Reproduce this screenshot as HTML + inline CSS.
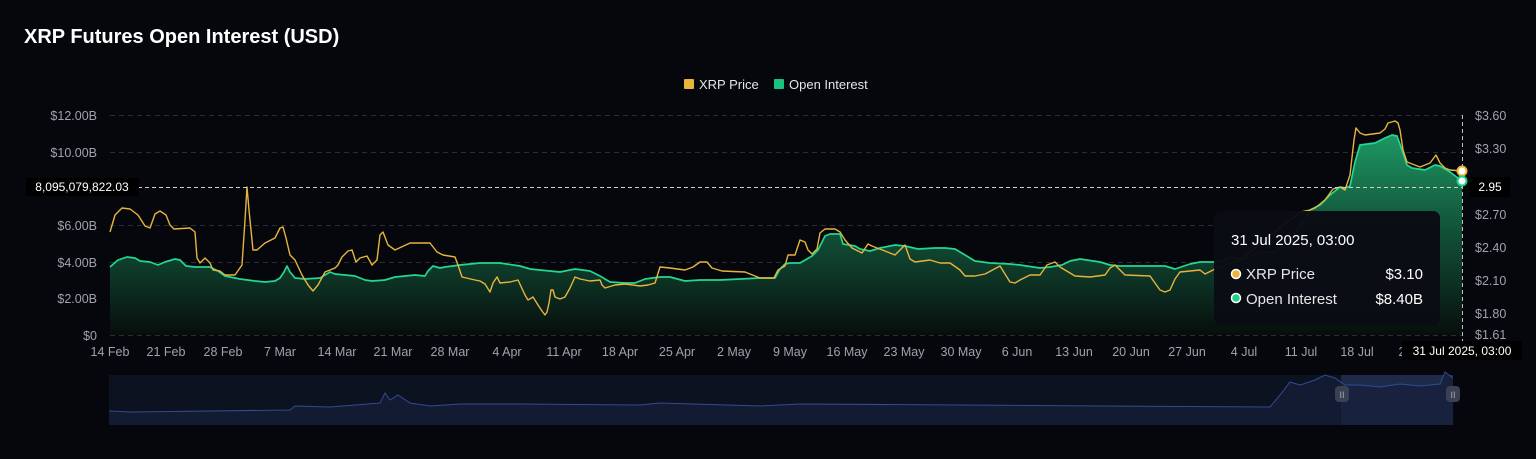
<!DOCTYPE html>
<html><head><meta charset="utf-8"><style>
html,body{margin:0;padding:0;background:#05070d;}
svg{display:block;font-family:"Liberation Sans",sans-serif;}
</style></head><body>
<svg width="1536" height="459" viewBox="0 0 1536 459" xmlns="http://www.w3.org/2000/svg">
<defs>
<linearGradient id="ga" gradientUnits="userSpaceOnUse" x1="0" y1="130" x2="0" y2="335">
<stop offset="0" stop-color="#1fa36a" stop-opacity="0.95"/>
<stop offset="0.5" stop-color="#13583c" stop-opacity="0.9"/>
<stop offset="1" stop-color="#070d0c" stop-opacity="1"/>
</linearGradient>
</defs>
<rect width="1536" height="459" fill="#05070d"/>
<text x="24" y="43" fill="#ffffff" font-size="20" font-weight="bold">XRP Futures Open Interest (USD)</text>
<rect x="684" y="79" width="10" height="10" rx="1" fill="#e8b43c"/>
<text x="699" y="89" fill="#e6e6e6" font-size="13">XRP Price</text>
<rect x="774" y="79" width="10" height="10" rx="1" fill="#19c27f"/>
<text x="789" y="89" fill="#e6e6e6" font-size="13">Open Interest</text>
<g stroke="#2a2d35" stroke-dasharray="5,4" stroke-width="1">
<line x1="110" y1="115.5" x2="1462" y2="115.5"/>
<line x1="110" y1="152.5" x2="1462" y2="152.5"/>
<line x1="110" y1="225.5" x2="1462" y2="225.5"/>
<line x1="110" y1="262.5" x2="1462" y2="262.5"/>
<line x1="110" y1="298.5" x2="1462" y2="298.5"/>
<line x1="110" y1="335.5" x2="1462" y2="335.5"/>
</g>
<g fill="#a0a3aa" font-size="12.5" text-anchor="end">
<text x="97" y="120">$12.00B</text>
<text x="97" y="157">$10.00B</text>
<text x="97" y="230">$6.00B</text>
<text x="97" y="267">$4.00B</text>
<text x="97" y="303">$2.00B</text>
<text x="97" y="340">$0</text>
</g>
<g fill="#a0a3aa" font-size="12.5">
<text x="1475" y="120">$3.60</text>
<text x="1475" y="153">$3.30</text>
<text x="1475" y="219">$2.70</text>
<text x="1475" y="252">$2.40</text>
<text x="1475" y="285">$2.10</text>
<text x="1475" y="318">$1.80</text>
<text x="1475" y="339">$1.61</text>
</g>
<g fill="#a0a3aa" font-size="12.5" text-anchor="middle">
<text x="110" y="356">14 Feb</text><text x="166" y="356">21 Feb</text><text x="223" y="356">28 Feb</text>
<text x="280" y="356">7 Mar</text><text x="337" y="356">14 Mar</text><text x="393" y="356">21 Mar</text>
<text x="450" y="356">28 Mar</text><text x="507" y="356">4 Apr</text><text x="564" y="356">11 Apr</text>
<text x="620" y="356">18 Apr</text><text x="677" y="356">25 Apr</text><text x="734" y="356">2 May</text>
<text x="790" y="356">9 May</text><text x="847" y="356">16 May</text><text x="904" y="356">23 May</text>
<text x="961" y="356">30 May</text><text x="1017" y="356">6 Jun</text><text x="1074" y="356">13 Jun</text>
<text x="1131" y="356">20 Jun</text><text x="1187" y="356">27 Jun</text><text x="1244" y="356">4 Jul</text>
<text x="1301" y="356">11 Jul</text><text x="1357" y="356">18 Jul</text><text x="1402" y="356">2</text>
</g>
<polygon fill="url(#ga)" points="110,335 110,267 118,260 127,257 135,258 140,261 150,262 158,265 165,262 175,259 180,260 186,266 195,267 210,267 218,271 225,276 240,279 255,281 265,282 275,281 280,278 284,272 287,266 290,272 295,278 305,279 320,278 330,272 335,274 345,275 355,276 365,280 372,281 385,280 395,277 405,276 415,275 425,276 428,271 433,266 440,268 445,267 460,265 480,263 500,263 520,266 530,269 540,270 550,271 560,272 575,269 590,271 600,276 610,282 625,283 635,283 645,279 660,277 670,277 685,281 700,280 720,280 740,279 760,278 775,278 780,269 785,264 790,263 800,263 812,256 818,250 825,236 830,234 840,234 843,244 855,246 860,249 870,251 880,248 895,245 905,246 918,249 935,248 945,248 955,249 965,255 975,261 990,263 1010,264 1020,265 1040,268 1050,267 1062,265 1070,261 1080,259 1100,262 1110,265 1120,266 1165,266 1175,269 1190,264 1200,262 1214,262 1230,258 1245,258 1260,252 1275,252 1290,240 1310,210 1320,205 1330,195 1340,187 1345,188 1350,186 1355,162 1360,145 1375,143 1385,138 1392,135 1397,136 1402,150 1407,165 1412,168 1425,170 1435,165 1440,166 1450,172 1462,181 1462,335"/>
<polyline fill="none" stroke="#22d890" stroke-width="1.7" stroke-linejoin="round" points="110,267 118,260 127,257 135,258 140,261 150,262 158,265 165,262 175,259 180,260 186,266 195,267 210,267 218,271 225,276 240,279 255,281 265,282 275,281 280,278 284,272 287,266 290,272 295,278 305,279 320,278 330,272 335,274 345,275 355,276 365,280 372,281 385,280 395,277 405,276 415,275 425,276 428,271 433,266 440,268 445,267 460,265 480,263 500,263 520,266 530,269 540,270 550,271 560,272 575,269 590,271 600,276 610,282 625,283 635,283 645,279 660,277 670,277 685,281 700,280 720,280 740,279 760,278 775,278 780,269 785,264 790,263 800,263 812,256 818,250 825,236 830,234 840,234 843,244 855,246 860,249 870,251 880,248 895,245 905,246 918,249 935,248 945,248 955,249 965,255 975,261 990,263 1010,264 1020,265 1040,268 1050,267 1062,265 1070,261 1080,259 1100,262 1110,265 1120,266 1165,266 1175,269 1190,264 1200,262 1214,262 1230,258 1245,258 1260,252 1275,252 1290,240 1310,210 1320,205 1330,195 1340,187 1345,188 1350,186 1355,162 1360,145 1375,143 1385,138 1392,135 1397,136 1402,150 1407,165 1412,168 1425,170 1435,165 1440,166 1450,172 1462,181"/>
<polyline fill="none" stroke="#e8b43c" stroke-width="1.4" stroke-linejoin="round" points="110,232 115,215 122,208 130,209 138,215 145,226 150,228 155,214 160,211 166,215 170,225 174,229 190,228 195,232 197,258 200,263 205,258 210,263 213,270 220,271 225,275 235,275 242,265 245,220 247,187 249,210 253,250 257,250 265,243 275,238 280,228 283,227 286,238 290,255 295,260 302,275 308,285 313,291 318,285 325,272 335,268 338,265 342,257 348,251 352,250 356,262 360,258 367,256 372,265 377,260 380,235 383,232 388,245 395,250 410,243 430,243 437,252 443,255 455,257 458,265 462,277 475,280 480,281 485,284 490,292 493,283 497,277 500,283 510,282 518,280 525,295 528,300 533,297 538,305 542,311 545,315 547,312 549,303 551,290 553,290 555,297 560,299 565,297 570,288 575,277 580,279 590,281 600,280 602,285 605,288 615,285 625,284 640,286 648,285 655,283 660,267 670,268 685,270 693,267 700,262 707,262 712,268 722,271 745,272 760,278 774,278 778,270 785,266 788,255 795,255 800,240 805,242 808,250 812,254 817,249 820,233 825,229 835,229 840,232 845,240 852,248 862,253 868,244 872,246 885,251 895,255 905,245 910,259 915,262 930,260 940,263 950,263 960,270 965,276 975,276 985,274 1000,266 1010,282 1015,283 1020,280 1030,275 1040,275 1047,265 1055,262 1060,267 1075,276 1090,277 1105,275 1110,268 1115,265 1125,275 1150,276 1160,290 1165,292 1170,290 1175,279 1180,272 1200,270 1205,274 1215,269 1240,260 1300,212 1310,210 1315,208 1325,200 1333,189 1340,187 1345,190 1350,175 1354,140 1356,128 1360,133 1365,135 1380,133 1385,129 1388,123 1395,121 1398,123 1400,130 1403,150 1407,162 1420,167 1430,163 1436,155 1440,163 1445,168 1450,170 1462,171"/>
<line x1="110" y1="187.5" x2="1462" y2="187.5" stroke="#d0d0d0" stroke-dasharray="4,3" stroke-width="1"/>
<line x1="1462.5" y1="115" x2="1462.5" y2="345" stroke="#c0c0c0" stroke-dasharray="4,3" stroke-width="1"/>
<rect x="26" y="178" width="113" height="18" fill="#000"/>
<text x="82" y="191" fill="#fff" font-size="12" text-anchor="middle">8,095,079,822.03</text>
<rect x="1470" y="177" width="40" height="20" fill="#000"/>
<text x="1490" y="191" fill="#fff" font-size="12" text-anchor="middle">2.95</text>
<circle cx="1462" cy="171" r="4.5" fill="#fff" stroke="#e8b43c" stroke-width="2"/>
<circle cx="1462" cy="181" r="4.5" fill="#fff" stroke="#1fd08a" stroke-width="2"/>
<rect x="1214" y="211" width="226" height="114" rx="7" fill="#0a0c14" opacity="0.97"/>
<text x="1231" y="245" fill="#fff" font-size="15">31 Jul 2025, 03:00</text>
<circle cx="1236" cy="274" r="4.5" fill="#e8b43c" stroke="#fff" stroke-width="1.5"/>
<text x="1246" y="279" fill="#e6e6e6" font-size="15">XRP Price</text>
<text x="1423" y="279" fill="#fff" font-size="15" text-anchor="end">$3.10</text>
<circle cx="1236" cy="298" r="4.5" fill="#1fd08a" stroke="#fff" stroke-width="1.5"/>
<text x="1246" y="304" fill="#e6e6e6" font-size="15">Open Interest</text>
<text x="1423" y="304" fill="#fff" font-size="15" text-anchor="end">$8.40B</text>
<rect x="1402" y="341" width="120" height="19" fill="#000"/>
<text x="1462" y="355" fill="#fff" font-size="12" text-anchor="middle">31 Jul 2025, 03:00</text>
<rect x="109" y="375" width="1344" height="50" fill="#0c1220"/>
<rect x="1341" y="375" width="112" height="50" fill="#1e2a4a"/>
<polygon fill="#16203a" opacity="0.7" points="109,425 109,411 130,412 290,410 295,406 330,407 380,403 385,393 390,400 398,395 410,403 430,406 460,404 520,404 640,405 660,403 760,406 800,404 960,405 1100,406 1270,407 1280,395 1290,382 1300,385 1315,380 1325,375 1335,378 1345,385 1360,385 1380,387 1400,384 1420,386 1440,384 1445,372 1453,378 1453,425"/>
<polyline fill="none" stroke="#2f4c8f" stroke-width="1" points="109,411 130,412 290,410 295,406 330,407 380,403 385,393 390,400 398,395 410,403 430,406 460,404 520,404 640,405 660,403 760,406 800,404 960,405 1100,406 1270,407 1280,395 1290,382 1300,385 1315,380 1325,375 1335,378 1345,385 1360,385 1380,387 1400,384 1420,386 1440,384 1445,372 1453,378"/>
<rect x="1335" y="386" width="14" height="16" rx="4" fill="#3a4152"/>
<text x="1342" y="398" fill="#aab" font-size="9" text-anchor="middle">II</text>
<rect x="1446" y="386" width="14" height="16" rx="4" fill="#3a4152"/>
<text x="1453" y="398" fill="#aab" font-size="9" text-anchor="middle">II</text>
</svg>
</body></html>
